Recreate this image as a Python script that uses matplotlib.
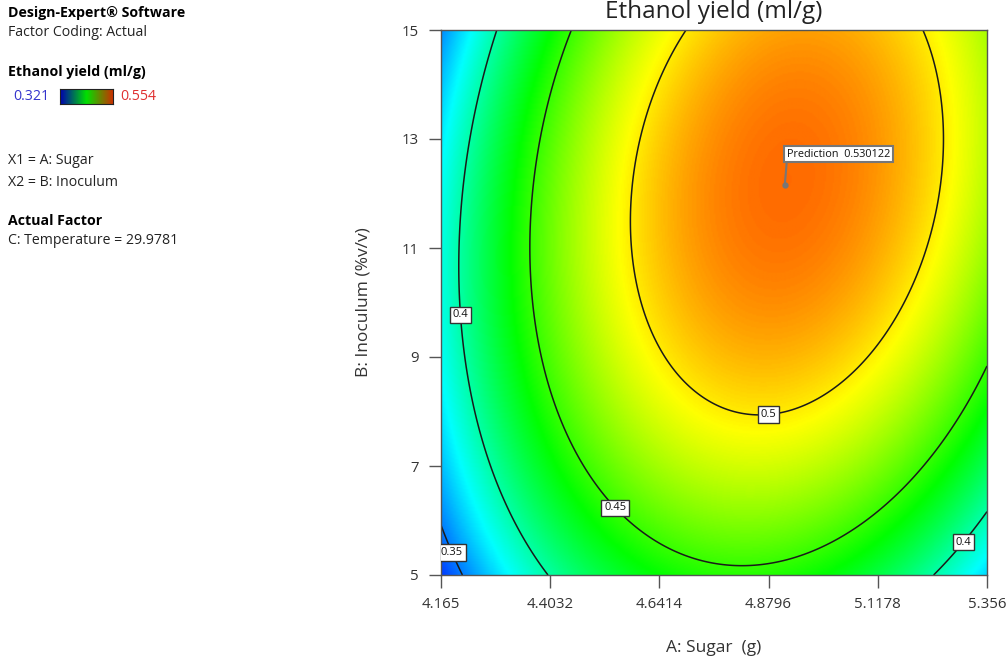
import numpy as np
import matplotlib
matplotlib.use("Agg")
import matplotlib.pyplot as plt
from matplotlib.colors import LinearSegmentedColormap

plt.rcParams["font.family"] = ["Open Sans", "DejaVu Sans"]

# quadratic model in coded units (A: Sugar, B: Inoculum), C fixed at 29.9781
b0, bA, bB, bAB, bAA, bBB = 0.51719, 0.03971, 0.03101, 0.02156, -0.09243, -0.04096
sugar_lo, sugar_hi = 4.165, 5.356
inoc_lo, inoc_hi = 5, 15
y_min, y_max = 0.321, 0.554
levels = [0.35, 0.4, 0.45, 0.5]
x_ticks = [4.165, 4.4032, 4.6414, 4.8796, 5.1178, 5.356]
x_ticklabels = ["4.165", "4.4032", "4.6414", "4.8796", "5.1178", "5.356"]
y_ticks = [5, 7, 9, 11, 13, 15]
pred_point = (4.915, 12.16)
pred_value = 0.530122

fig = plt.figure(figsize=(10.06, 6.59), dpi=100)
ax = fig.add_axes([441 / 1006, 1 - 575 / 659, 546 / 1006, 545 / 659])

a = np.linspace(sugar_lo, sugar_hi, 400)
b = np.linspace(inoc_lo, inoc_hi, 400)
A, B = np.meshgrid(a, b)
xa = (A - (sugar_lo + sugar_hi) / 2) / ((sugar_hi - sugar_lo) / 2)
xb = (B - (inoc_lo + inoc_hi) / 2) / ((inoc_hi - inoc_lo) / 2)
Z = b0 + bA * xa + bB * xb + bAB * xa * xb + bAA * xa**2 + bBB * xb**2

cmap = LinearSegmentedColormap.from_list("de", ["#0000ff", "#00ffff", "#00ff00", "#ffff00", "#ff0000"])
ax.imshow(Z, origin="lower", extent=[sugar_lo, sugar_hi, inoc_lo, inoc_hi], aspect="auto",
          cmap=cmap, vmin=y_min, vmax=y_max, interpolation="bilinear")
cs = ax.contour(A, B, Z, levels=levels, colors="#1a1a1a", linewidths=1.1)
lab_pos = [(4.206, 9.77), (4.196, 5.44), (4.551, 6.28), (4.878, 8.05), (5.291, 5.70)]
labels = ax.clabel(cs, fmt="%g", fontsize=8, inline=False, manual=lab_pos)
for t in labels:
    t.set_rotation(0)
    t.set_color("#111111")
    t.set_bbox(dict(boxstyle="square,pad=0.25", fc="white", ec="#333333", lw=1))
    t.set_zorder(5)

# prediction flag
ax.plot(*pred_point, marker="o", ms=3.5, color="#777777", zorder=6)
ax.annotate("Prediction  %.6f" % pred_value, xy=pred_point, xytext=(1.5, 18), textcoords="offset points",
            fontsize=7.8, ha="left", va="bottom", color="#111111", zorder=6,
            bbox=dict(boxstyle="square,pad=0.25", fc="white", ec="#777777", lw=1.5),
            arrowprops=dict(arrowstyle="-", color="#777777", lw=1.5, shrinkA=0, shrinkB=0,
                            relpos=(0, 0)))

ax.set_xlim(sugar_lo, sugar_hi)
ax.set_ylim(inoc_lo, inoc_hi)
ax.set_xticks(x_ticks, x_ticklabels)
ax.set_yticks(y_ticks)
ax.tick_params(direction="out", length=9, width=1, color="#555555", labelsize=10.8,
               labelcolor="#333333", pad=7)
for s in ax.spines.values():
    s.set_color("#555555")
    s.set_linewidth(1)
fig.text(714 / 1006, 1 - 12 / 659, "Ethanol yield (ml/g)", fontsize=17.5, color="#222222",
         ha="center", va="center")
ax.set_xlabel("A: Sugar  (g)", fontsize=12.5, color="#333333", labelpad=20)
ax.set_ylabel("B: Inoculum (%v/v)", fontsize=12.5, color="#333333", labelpad=22)

# left info panel
fs = 10.2
fig.text(8 / 1006, 1 - 13 / 659, "Design-Expert® Software", fontsize=fs, weight="bold", va="center")
fig.text(8 / 1006, 1 - 32 / 659, "Factor Coding: Actual", fontsize=fs, va="center", color="#222222")
fig.text(8 / 1006, 1 - 72 / 659, "Ethanol yield (ml/g)", fontsize=fs, weight="bold", va="center")
fig.text(13 / 1006, 1 - 97 / 659, "%.3f" % y_min, fontsize=fs, va="center", color="#3333cc")
fig.text(120 / 1006, 1 - 97 / 659, "%.3f" % y_max, fontsize=fs, va="center", color="#e03030")
cax = fig.add_axes([60 / 1006, 1 - 104 / 659, 53 / 1006, 15 / 659])
dark = LinearSegmentedColormap.from_list("dk", ["#0000b0", "#00e000", "#c83200"])
cax.imshow(np.linspace(0, 1, 100)[None, :], aspect="auto", cmap=dark)
cax.set_xticks([])
cax.set_yticks([])
for s in cax.spines.values():
    s.set_color("#222222")
fig.text(8 / 1006, 1 - 161 / 659, "X1 = A: Sugar", fontsize=fs, va="center", color="#222222")
fig.text(8 / 1006, 1 - 182 / 659, "X2 = B: Inoculum", fontsize=fs, va="center", color="#222222")
fig.text(8 / 1006, 1 - 221 / 659, "Actual Factor", fontsize=fs, weight="bold", va="center")
fig.text(8 / 1006, 1 - 241 / 659, "C: Temperature = 29.9781", fontsize=fs, va="center", color="#222222")

fig.savefig("out.png")
